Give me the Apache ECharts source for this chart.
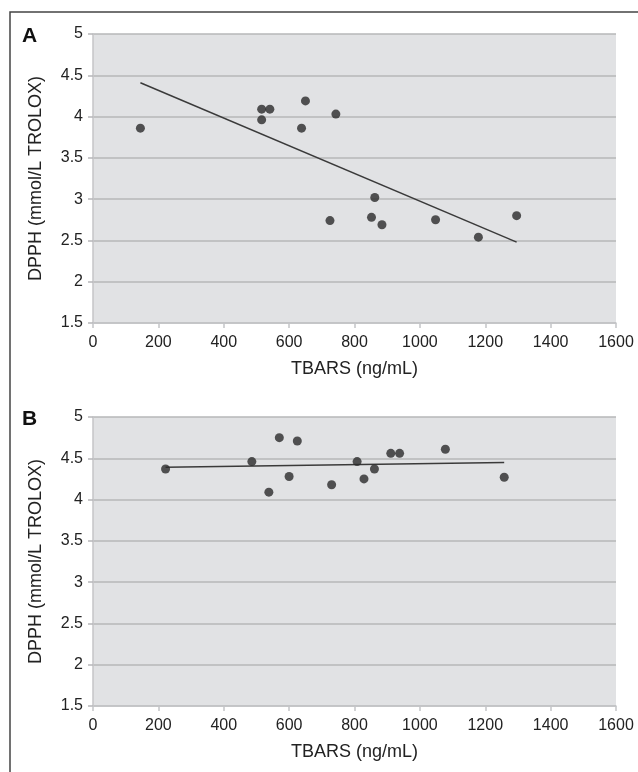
<!DOCTYPE html>
<html>
<head>
<meta charset="utf-8">
<script src="https://cdn.jsdelivr.net/npm/echarts@6/dist/echarts.min.js"></script>
<style>
  html, body { margin: 0; padding: 0; background: #fff; }
  #echart { width: 638px; height: 772px; }
</style>
</head>
<body>
<div id="echart"></div>
<script>
// panel A: TBARS vs DPPH
var tbarsA = [145, 516, 541, 516, 638, 650, 743, 725, 862, 852, 884, 1048, 1179, 1296];
var dpphA = [3.86, 4.09, 4.09, 3.96, 3.86, 4.19, 4.03, 2.74, 3.02, 2.78, 2.69, 2.75, 2.54, 2.80];
var trendA = [[145, 4.41], [1296, 2.48]];

// panel B
var tbarsB = [222, 486, 570, 625, 538, 600, 730, 808, 829, 861, 911, 938, 1078, 1258];
var dpphB = [4.37, 4.46, 4.75, 4.71, 4.09, 4.28, 4.18, 4.46, 4.25, 4.37, 4.56, 4.56, 4.61, 4.27];
var trendB = [[222, 4.39], [1258, 4.45]];

var xTicks = [0, 200, 400, 600, 800, 1000, 1200, 1400, 1600];
var yTicks = [1.5, 2, 2.5, 3, 3.5, 4, 4.5, 5];

var font = 'Liberation Sans, Arial, sans-serif';
var gridColor = '#b6b7b9';

function pairs(xs, ys) {
    return xs.map(function (x, i) { return [x, ys[i]]; });
}

function xAxisFor(idx) {
    return {
        type: 'value', gridIndex: idx,
        min: xTicks[0], max: xTicks[xTicks.length - 1], interval: 200,
        name: 'TBARS (ng/mL)', nameLocation: 'middle', nameGap: 37,
        nameTextStyle: { fontFamily: font, fontSize: 18, color: '#222' },
        axisLine: { show: true, lineStyle: { color: '#c4c5c7', width: 1.5 } },
        axisTick: { show: true, length: 5, lineStyle: { color: '#c4c5c7', width: 1.5 } },
        axisLabel: { fontFamily: font, fontSize: 16, color: '#222', margin: 12,
                     formatter: function (v) { return String(v); } },
        splitLine: { show: false }
    };
}

function yAxisFor(idx) {
    return {
        type: 'value', gridIndex: idx,
        min: yTicks[0], max: yTicks[yTicks.length - 1], interval: 0.5,
        name: 'DPPH (mmol/L TROLOX)', nameLocation: 'middle', nameGap: 48,
        nameTextStyle: { fontFamily: font, fontSize: 18, color: '#222' },
        axisLine: { show: true, lineStyle: { color: '#c4c5c7', width: 1.5 } },
        axisTick: { show: true, length: 5, lineStyle: { color: gridColor, width: 1.5 } },
        axisLabel: { fontFamily: font, fontSize: 16, color: '#222', margin: 10 },
        splitLine: { show: true, lineStyle: { color: gridColor, width: 1.5 } }
    };
}

var chartDom = document.getElementById('echart');
var myChart = echarts.init(chartDom);

var option = {
    animation: false,
    backgroundColor: '#fff',
    grid: [
        { left: 93, top: 34, width: 523, height: 289, show: true, backgroundColor: '#e1e2e4', borderWidth: 0 },
        { left: 93, top: 417, width: 523, height: 289, show: true, backgroundColor: '#e1e2e4', borderWidth: 0 }
    ],
    xAxis: [xAxisFor(0), xAxisFor(1)],
    yAxis: [yAxisFor(0), yAxisFor(1)],
    graphic: [
        { type: 'rect', shape: { x: 10, y: 12, width: 700, height: 800 },
          style: { fill: 'none', stroke: '#444', lineWidth: 1.5 }, z: 100 },
        { type: 'text', left: 22, top: 26,
          style: { text: 'A', fontFamily: font, fontSize: 21, fontWeight: 'bold', fill: '#111' } },
        { type: 'text', left: 22, top: 409,
          style: { text: 'B', fontFamily: font, fontSize: 21, fontWeight: 'bold', fill: '#111' } }
    ],
    series: [
        { type: 'line', xAxisIndex: 0, yAxisIndex: 0, data: trendA, symbol: 'none',
          lineStyle: { color: '#3a3a3a', width: 1.5 }, z: 2 },
        { type: 'scatter', xAxisIndex: 0, yAxisIndex: 0, data: pairs(tbarsA, dpphA),
          symbolSize: 9, itemStyle: { color: '#2a2a2a' }, z: 3 },
        { type: 'line', xAxisIndex: 1, yAxisIndex: 1, data: trendB, symbol: 'none',
          lineStyle: { color: '#3a3a3a', width: 1.5 }, z: 2 },
        { type: 'scatter', xAxisIndex: 1, yAxisIndex: 1, data: pairs(tbarsB, dpphB),
          symbolSize: 9, itemStyle: { color: '#2a2a2a' }, z: 3 }
    ]
};

myChart.setOption(option);

window.addEventListener('resize', function () {
    myChart.resize();
});
</script>
</body>
</html>
